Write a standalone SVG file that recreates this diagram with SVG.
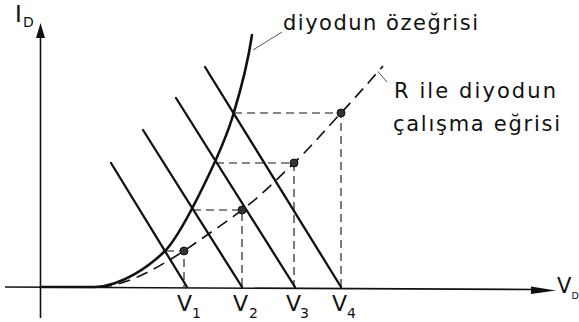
<svg xmlns="http://www.w3.org/2000/svg" width="579" height="322" viewBox="0 0 579 322">
<style>
text{font-family:"DejaVu Sans","Liberation Sans",sans-serif;fill:#111}
.lbl{font-size:21px}
.ax{stroke:#111;stroke-width:1.6;fill:none}
.load{stroke:#111;stroke-width:2.3;fill:none;stroke-linecap:round}
.diode{stroke:#111;stroke-width:2.6;fill:none;stroke-linecap:round}
.work{stroke:#111;stroke-width:1.6;fill:none;stroke-dasharray:12 7}
.guide{stroke:#111;stroke-width:1.1;fill:none;stroke-dasharray:8 5}
.lead{stroke:#444;stroke-width:0.9;fill:none}
.dot{fill:#333;stroke:#111;stroke-width:1}
.v{font-size:22px}
.s{font-size:14px}
</style>
<rect width="579" height="322" fill="#fff"/>
<g id="axes">
  <line class="ax" x1="40.5" y1="36" x2="40.5" y2="318"/>
  <polygon points="40.5,23 36,38 45,38" fill="#111"/>
  <line class="ax" x1="5" y1="287" x2="535" y2="289.5"/>
  <polygon points="556,290.5 531,286.5 531,294" fill="#111"/>
  <text x="15" y="22" style="font-size:23px">I</text>
  <text x="23" y="27" class="s">D</text>
  <text x="557" y="293" style="font-size:21px">V</text>
  <text x="571.5" y="299" style="font-size:9.5px">D</text>
</g>
<g id="connectors">
  <g id="load-lines">
    <line class="load" x1="111" y1="163" x2="187" y2="287"/>
    <line class="load" x1="143" y1="130" x2="242" y2="287"/>
    <line class="load" x1="176" y1="98" x2="295" y2="287"/>
    <line class="load" x1="205" y1="67" x2="341" y2="287"/>
  </g>
  <g id="guides">
    <polyline class="guide" points="166,251 184,251 184,287"/>
    <polyline class="guide" points="193,210 242,210 242,287"/>
    <polyline class="guide" points="216,163 294,163 294,287"/>
    <polyline class="guide" points="234,113 341,113 341,287"/>
  </g>
  <path id="diode-curve" class="diode" d="M40.5,287 L95,287 C122,286 150,266 166,250 C184,230 224,148 234,112 C241,89 249,55 252,35"/>
  <path id="working-curve" class="work" d="M100,287 C130,285 160,266 184,251 C204,237 222,225 242,210 C262,195 277,179 294,163 C311,147 325,130 341,113 C355,98 369,82 383,66"/>
  <line class="lead" x1="253" y1="50" x2="282" y2="32"/>
  <line class="lead" x1="378" y1="71.5" x2="387" y2="82"/>
</g>
<g id="points">
  <circle class="dot" cx="184" cy="251" r="4"/>
  <circle class="dot" cx="242" cy="210" r="4"/>
  <circle class="dot" cx="294" cy="163" r="4"/>
  <circle class="dot" cx="341" cy="113" r="4"/>
</g>
<g id="labels">
  <text class="lbl" x="283" y="30" textLength="195" lengthAdjust="spacing">diyodun özeğrisi</text>
  <text class="lbl" x="394" y="97.5" textLength="162" lengthAdjust="spacing">R ile diyodun</text>
  <text class="lbl" x="393" y="131" textLength="167" lengthAdjust="spacing">çalışma eğrisi</text>
  <text x="177" y="311" class="v">V</text><text x="192" y="318" class="s">1</text>
  <text x="233" y="311" class="v">V</text><text x="249" y="318" class="s">2</text>
  <text x="286" y="311" class="v">V</text><text x="300" y="318" class="s">3</text>
  <text x="332" y="311" class="v">V</text><text x="347" y="318" class="s">4</text>
</g>
</svg>
